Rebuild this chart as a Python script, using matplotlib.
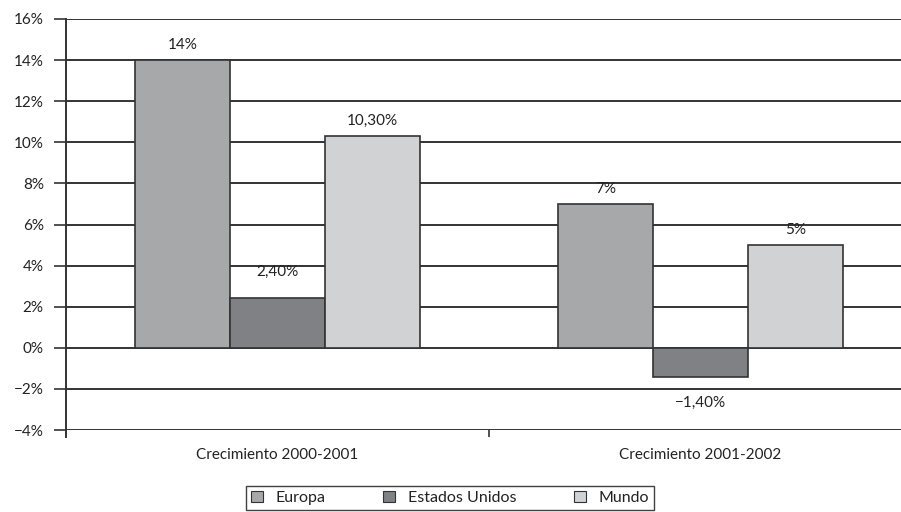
import matplotlib
matplotlib.use("Agg")
import matplotlib.pyplot as plt
from matplotlib.ticker import FixedLocator

periods = ["Crecimiento 2000-2001", "Crecimiento 2001-2002"]
regions = ["Europa", "Estados Unidos", "Mundo"]
europa = [14.0, 7.0]
estados_unidos = [2.4, -1.4]
mundo = [10.3, 5.0]
y_ticks = [-4, -2, 0, 2, 4, 6, 8, 10, 12, 14, 16]

colors = ["#a7a8aa", "#808184", "#d1d2d4"]
edge = "#333333"
text_color = "#222222"

plt.rcParams["font.family"] = ["Lato", "DejaVu Sans"]


def fmt(v: float) -> str:
    if float(v).is_integer():
        s = f"{int(v)}%"
    else:
        s = f"{v:.2f}".replace(".", ",") + "%"
    return s.replace("-", "\u2212")


fig = plt.figure(figsize=(9.01, 5.12), dpi=100)
ax = fig.add_axes([66 / 901, 1 - 430 / 512, (912 - 66) / 901, 411 / 512])

width = 0.224
series = [europa, estados_unidos, mundo]
label_gap = [6, 14, 6]
for i, (name, vals) in enumerate(zip(regions, series)):
    xs = [k + (i - 1) * width for k in range(len(periods))]
    ax.bar(xs, vals, width, color=colors[i], edgecolor=edge, linewidth=1.2,
           label=name, zorder=3)
    for x, v in zip(xs, vals):
        off = label_gap[i] if v >= 0 else -label_gap[i]
        ax.annotate(fmt(v), (x, v), xytext=(0, off), textcoords="offset points",
                    ha="center", va="bottom" if v >= 0 else "top",
                    fontsize=11, color=text_color)

ax.set_xlim(-0.5, 1.5)
ax.set_ylim(-4, 16)
ax.set_yticks(y_ticks)
ax.set_yticklabels([fmt(t) for t in y_ticks])
ax.grid(axis="y", color=edge, linewidth=1.4, zorder=0)

ax.set_xticks(range(len(periods)))
ax.set_xticklabels(periods)
ax.xaxis.set_minor_locator(FixedLocator([0.5]))
ax.tick_params(axis="x", which="major", length=0, pad=13, labelsize=11,
               labelcolor=text_color)
ax.tick_params(axis="x", which="minor", length=5, width=1.2, color=edge)
ax.tick_params(axis="y", length=9, width=1.2, color=edge, labelsize=11,
               labelcolor=text_color, pad=7)

for side in ["top", "right", "bottom"]:
    ax.spines[side].set_visible(False)
ax.spines["left"].set_color(edge)
ax.spines["left"].set_linewidth(1.4)
ax.plot([-0.5, -0.5], [-4.35, -4], color=edge, linewidth=1.4, clip_on=False)

leg = fig.legend(loc="center", bbox_to_anchor=(450 / 901, 1 - 498 / 512),
                 ncol=3, fontsize=11.5, frameon=True, fancybox=False,
                 handlelength=0.75, handleheight=0.75, handletextpad=0.8,
                 columnspacing=3.6, borderpad=0.3, borderaxespad=0,
                 labelcolor=text_color)
leg.get_frame().set_edgecolor("#111111")
leg.get_frame().set_linewidth(1.0)
for h in leg.legend_handles:
    h.set_linewidth(0.8)

fig.savefig("out.png", dpi=100)
